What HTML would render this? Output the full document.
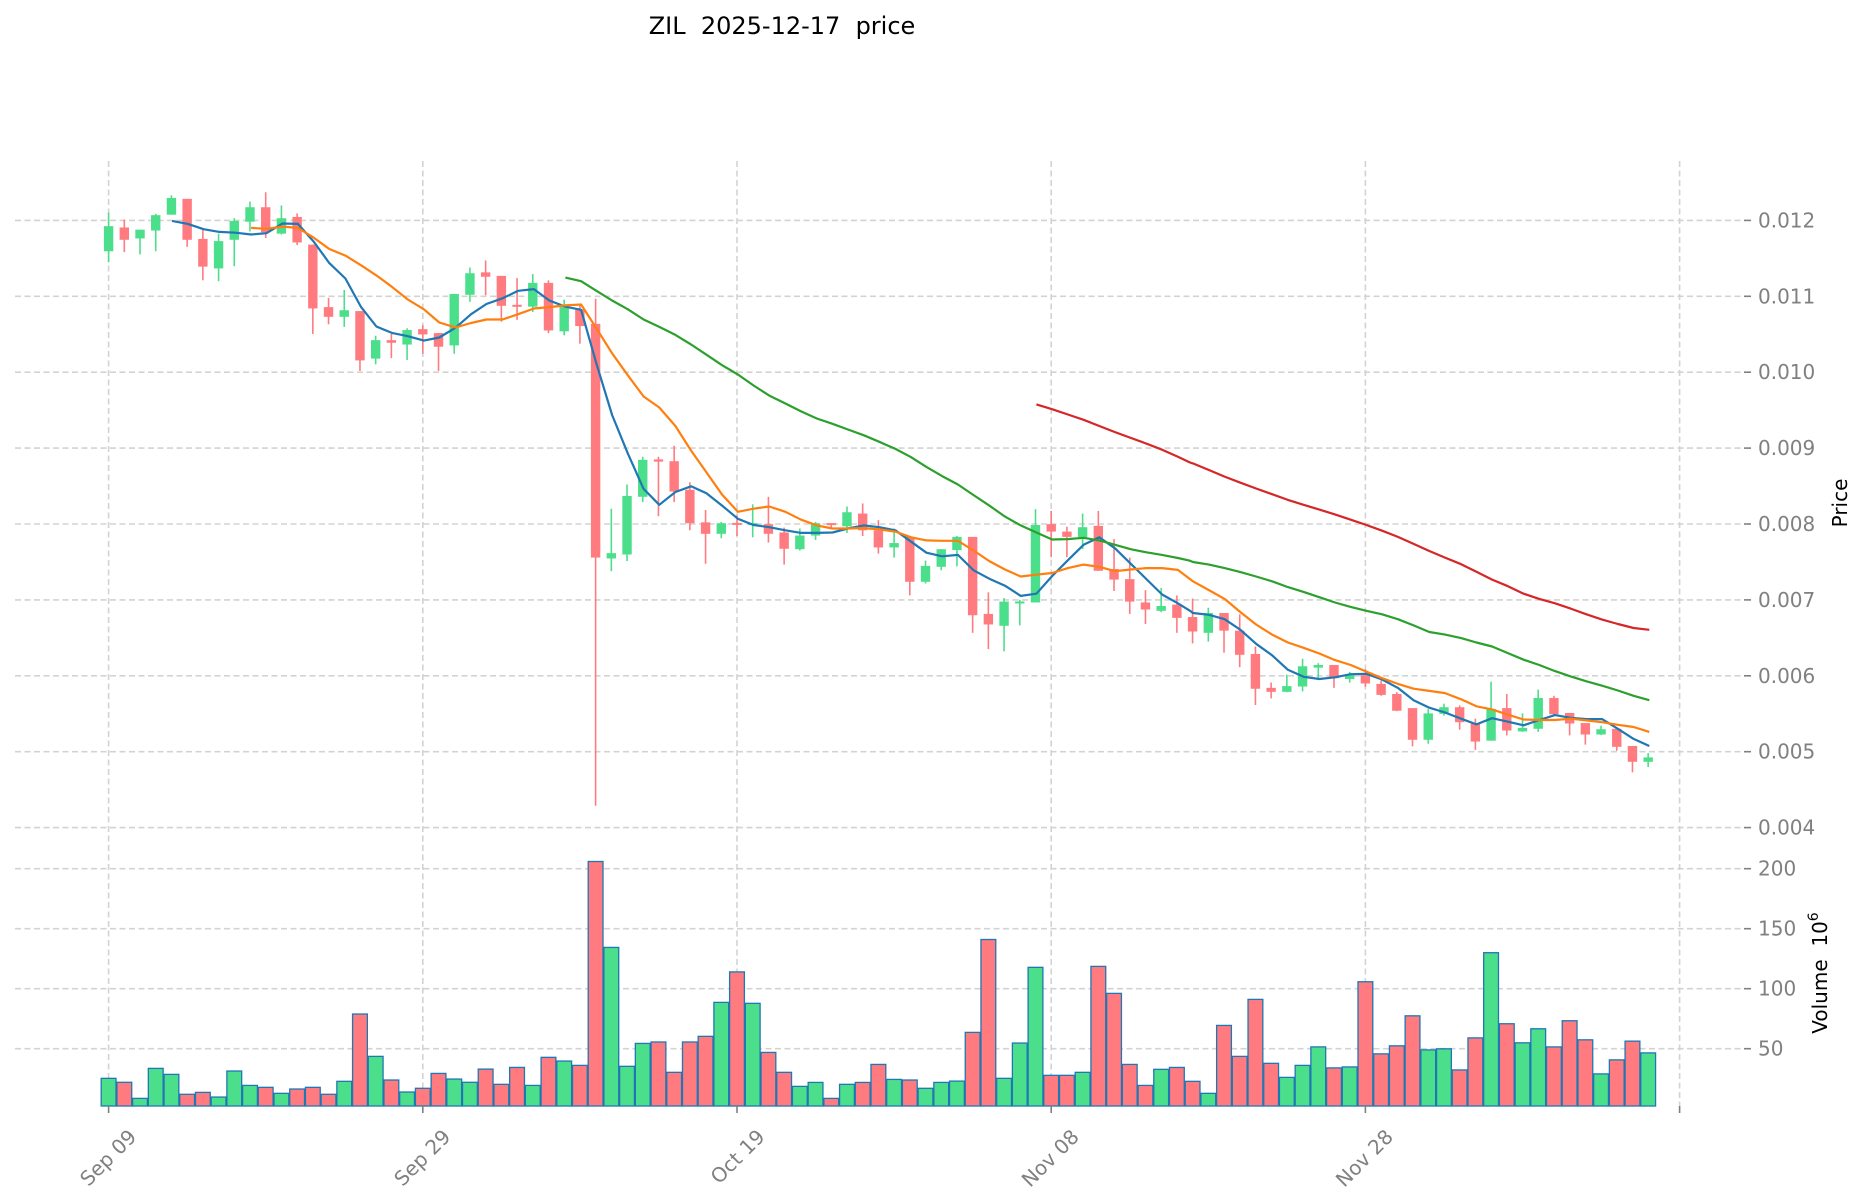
<!DOCTYPE html>
<html><head><meta charset="utf-8"><style>
html,body{margin:0;padding:0;background:#fff;}
svg{display:block;font-family:"DejaVu Sans","Liberation Sans",sans-serif;}
.pre{white-space:pre;}
</style></head><body>
<svg id="s" xmlns="http://www.w3.org/2000/svg" width="1860" height="1202" viewBox="0 0 1860 1202">
<rect width="1860" height="1202" fill="#fff"/>
<text class="pre" xml:space="preserve" x="782" y="34" font-size="24" text-anchor="middle" fill="#000">ZIL  2025-12-17  price</text>
<g id="grid"></g><g id="vol"></g><g id="cand"></g><g id="ma"></g><g id="axes"></g>
<text transform="translate(1847,503) rotate(-90)" font-size="20" text-anchor="middle" fill="#000">Price</text>
<text class="pre" xml:space="preserve" transform="translate(1827,973) rotate(-90)" font-size="20" text-anchor="middle" fill="#000">Volume  10<tspan font-size="14" dy="-9">6</tspan></text>
</svg>
<script>
(function(){
var NS="http://www.w3.org/2000/svg";
function el(p,t,a,txt){var e=document.createElementNS(NS,t);for(var k in a)e.setAttribute(k,a[k]);if(txt!=null)e.textContent=txt;document.getElementById(p).appendChild(e);return e;}
function X(i){return 108.6+15.71*i;}
function PY(p){return 220.4+(0.012-p)*75900;}
function VY(v){return 1108.7-v*1.2;}
var gc="#d3d3d3",da="6,3.5";
for(var k=4;k<=12;k++){var y=PY(k/1000);
 el("grid","line",{x1:15,x2:1743,y1:y,y2:y,stroke:gc,"stroke-width":1.6,"stroke-dasharray":da});
 el("axes","line",{x1:1744,x2:1751,y1:y,y2:y,stroke:"#808080","stroke-width":1.6});
 el("axes","text",{x:1758,y:y+7,"font-size":20,fill:"#808080"},"0.0"+(k<10?"0"+k:k));
}
[50,100,150,200].forEach(function(v){var y=VY(v);
 el("grid","line",{x1:15,x2:1743,y1:y,y2:y,stroke:gc,"stroke-width":1.6,"stroke-dasharray":da});
 el("axes","line",{x1:1744,x2:1751,y1:y,y2:y,stroke:"#808080","stroke-width":1.6});
 el("axes","text",{x:1758,y:y+7,"font-size":20,fill:"#808080"},String(v));
});
var labs=["Sep 09","Sep 29","Oct 19","Nov 08","Nov 28",null];
for(var j=0;j<6;j++){var x=X(j*20);
 el("grid","line",{x1:x,x2:x,y1:161,y2:1106,stroke:gc,"stroke-width":1.6,"stroke-dasharray":da});
 el("axes","line",{x1:x,x2:x,y1:1106,y2:1113,stroke:"#808080","stroke-width":1.6});
 if(labs[j])el("axes","text",{transform:"translate("+(x+29)+",1138) rotate(-45)","font-size":20,fill:"#808080","text-anchor":"end"},labs[j]);
}
var C=[[173,230,142,255,1],[176,204,158,232,0],[181,201,181,237,1],[148,183,145,230,1],[109,147,103,147,1],[111,204,111,220,0],[202,265,182,296,0],[207,269,190,298,1],[161,204,155,264,1],[130,163,117,185,1],[130,187,96,200,0],[155,190,126,192,1],[152,210,144,216,0],[215,360,215,418,0],[357,379,336,396,0],[364,379,318,402,1],[366,478,366,502,0],[432,474,422,487,1],[432,438,418,473,0],[409,442,405,477,1],[407,419,398,463,0],[416,447,416,502,0],[327,444,327,463,1],[280,329,267,345,1],[278,288,251,330,0],[286,354,286,390,0],[352,356,291,386,0],[302,356,282,368,1],[302,410,296,416,0],[354,412,340,421,1],[362,400,350,440,0],[395,926,338,1490,0],[916,928,815,957,1],[786,919,760,934,1],[704,788,697,800,1],
[703,708,697,832,0],[707,776,672,800,0],[772,848,755,864,0],[846,872,818,940,0],[848,872,845,882,1],[848,851,830,877,0],[848,852,805,880,1],[850,872,788,892,0],[869,906,858,942,0],[876,907,860,910,1],[848,876,845,886,1],[848,852,848,860,0],[823,855,810,870,1],[826,864,803,877,0],[864,903,841,917,0],[893,903,860,926,1],[879,981,879,1012,0],[945,981,933,985,1],[907,947,907,955,1],[879,909,877,946,1],[879,1057,879,1097,0],[1054,1078,1005,1134,0],[1026,1081,1018,1139,1],[1026,1030,1022,1080,1],[852,1028,816,1028,1],[850,867,820,925,0],[867,879,856,925,0],[857,880,826,907,1],[854,956,820,956,0],[952,976,884,1002,0],[975,1026,926,1054,0],[1028,1044,1000,1077,0],[1036,1047,995,1050,1],
[1033,1063,1012,1097,0],[1061,1094,1019,1121,0],[1052,1097,1040,1117,1],[1052,1092,1052,1142,0],[1092,1147,1055,1175,0],[1145,1224,1128,1261,0],[1222,1231,1210,1246,0],[1218,1231,1192,1232,1],[1173,1219,1156,1230,1],[1170,1176,1166,1203,1],[1170,1200,1170,1222,0],[1192,1202,1186,1210,1],[1193,1212,1180,1220,0],[1213,1238,1205,1240,0],[1236,1274,1232,1275,0],[1268,1340,1268,1355,0],[1280,1340,1270,1349,1],[1266,1281,1258,1285,1],[1266,1300,1262,1317,0],[1303,1344,1292,1363,0],[1270,1342,1208,1342,1],[1268,1319,1236,1330,0],[1313,1321,1280,1322,1],[1245,1315,1226,1322,1],[1245,1282,1240,1285,0],[1279,1303,1279,1330,0],[1302,1328,1302,1351,0],[1316,1328,1308,1329,1],[1315,1356,1315,1365,0],[1354,1390,1354,1414,0],[1380,1390,1370,1402,1]];
var V=[25.3,22,8.6,33.6,28.6,12,13.6,9.7,31.4,19.4,17.8,12.8,16.4,17.8,12,22.8,78.9,43.6,23.9,13.9,17,29.4,24.7,22,33,20.3,34.4,19.4,42.8,39.7,36.1,206,134.4,35.3,54.4,55.6,30.3,55.6,60.3,88.6,114,87.8,46.9,30.3,18.6,21.9,8.6,20.3,21.9,36.9,24.4,23.9,17,21.9,23,63.6,141,25.3,54.7,117.8,27.8,27.8,30.3,118.6,96.1,36.9,19.4,32.8,34.4,22.8,12.8,69.4,43.6,91.1,37.8,26.1,36.1,51.5,34,34.8,105.8,45.7,52.4,77.4,49,49.9,32.3,59,130,70.8,54.9,66.6,51.5,73.3,57.4,29,40.7,56.3,46.5];
var G="#4cdf8b",R="#ff7b80";
function zy(z){return z/2.272+150;}
for(var i=0;i<C.length;i++){var c=C[i],x=X(i),col=c[4]?G:R;
 el("cand","line",{x1:x,x2:x,y1:zy(c[2]),y2:zy(c[3]),stroke:col,"stroke-width":1.6});
 var t=zy(c[0]),b=zy(c[1]);if(b-t<2){var m=(t+b)/2;t=m-1;b=m+1;}
 el("cand","rect",{x:x-4.7,y:t,width:9.4,height:b-t,fill:col});
 var vy=VY(V[i]);
 el("vol","rect",{x:x-7.4,y:vy,width:14.8,height:1106-vy,fill:col,stroke:"#1f77b4","stroke-width":1.3});
}
function pts(arr,off,minx){var o=[];for(var k=0;k<arr.length;k+=2){var ax=arr[k]/2.8+off;if(ax>minx)o.push(ax.toFixed(1)+","+zy(arr[k+1]).toFixed(1));}return o;}
function line(segs,col){var p=[],last=-1;segs.forEach(function(s){var q=pts(s[0],s[1],last+2);if(q.length){p=p.concat(q);last=parseFloat(q[q.length-1]);}});
 el("ma","polyline",{points:p.join(" "),fill:"none",stroke:col,"stroke-width":2.2,"stroke-linejoin":"round"});}
line([[[230,161,274,168,318,180,362,186,407,188,451,192,494,189,539,167,582,168,626,208,670,257,715,292,759,357,802,401,847,416,890,423,935,433,978,426,1023,404,1067,373,1110,350,1155,337,1199,320,1243,316,1286,342,1331,356,1375,363,1418,485,1462,602,1506,690,1550,770],90],
[[0,682,38,740,82,806,127,777,171,764,214,780,258,808,302,838,346,852,390,857,435,864,479,870,523,870,567,869,610,860,654,853,698,857,743,864,787,890,830,915,874,923,918,920,962,955,1006,974,1050,990,1094,1013,1138,1008,1182,968,1226,932,1270,897,1314,880,1358,905,1402,940,1446,975,1490,1010,1534,1030,1568,1047],630],
[[0,1017,20,1030,64,1052,109,1056,153,1066,197,1090,241,1122,286,1148,330,1181,374,1197,418,1202,462,1198,506,1191,550,1190,594,1203,638,1222,682,1250,726,1267,770,1278,815,1292,858,1305,902,1291,946,1299,990,1307,1034,1295,1078,1284,1122,1290,1166,1293,1210,1293,1254,1315,1298,1338,1342,1354],1170]],"#1f77b4");
line([[[451,177,494,179,539,174,582,177,626,199,670,225,715,240,759,262,802,285,847,312,890,340,935,362,978,392,1023,403,1067,393,1110,385,1155,385,1199,373,1243,360,1286,357,1331,353,1375,351,1418,405,1462,462,1506,512,1550,560],90],
[[0,512,38,548,82,585,127,627,171,683,214,732,258,783,302,822,346,815,390,810,435,822,479,840,523,853,567,860,610,860,654,859,698,862,743,867,787,880,830,887,874,888,918,888,962,910,1006,934,1050,953,1094,969,1138,965,1182,961,1226,950,1270,942,1314,947,1358,957,1402,953,1446,950,1490,950,1534,954,1568,975],630],
[[0,952,20,955,64,980,109,1000,153,1020,197,1050,241,1078,286,1101,330,1119,374,1131,418,1144,462,1159,506,1170,550,1185,594,1200,638,1213,682,1224,726,1229,770,1234,815,1248,858,1264,902,1271,946,1283,990,1294,1034,1295,1078,1295,1122,1292,1166,1296,1210,1300,1254,1306,1298,1311,1342,1322],1170]],"#ff7f0e");
line([[[1331,290,1375,298,1418,320,1462,342,1506,362,1550,385],90],
[[0,369,38,386,82,402,127,420,171,442,214,465,258,489,302,510,346,535,390,558,435,576,479,594,523,610,567,622,610,635,654,648,698,663,743,679,787,698,830,720,874,741,918,760,962,784,1006,808,1050,833,1094,853,1138,869,1182,885,1226,884,1270,881,1314,887,1358,897,1402,907,1446,914,1490,920,1534,927,1568,933],630],
[[0,924,64,936,109,942,153,950,197,959,241,969,286,980,330,993,374,1004,418,1016,462,1028,506,1038,550,1047,594,1055,638,1066,682,1080,726,1095,770,1101,815,1109,858,1119,902,1128,946,1143,990,1158,1034,1170,1078,1184,1122,1196,1166,1207,1210,1217,1254,1228,1298,1240,1342,1250],1170]],"#2ca02c");
line([[[1138,578,1182,589,1226,601,1270,613,1314,627,1358,641,1402,654,1446,667,1490,681,1534,697,1568,710],630],
[[0,688,64,712,109,727,153,742,197,756,241,769,286,782,330,795,374,806,418,817,462,828,506,840,550,852,594,865,638,879,682,895,726,911,770,926,815,941,858,958,902,976,946,991,990,1008,1034,1020,1078,1030,1122,1042,1166,1055,1210,1067,1254,1077,1298,1086,1342,1090],1170]],"#d62728");
})();
</script>
</body></html>
